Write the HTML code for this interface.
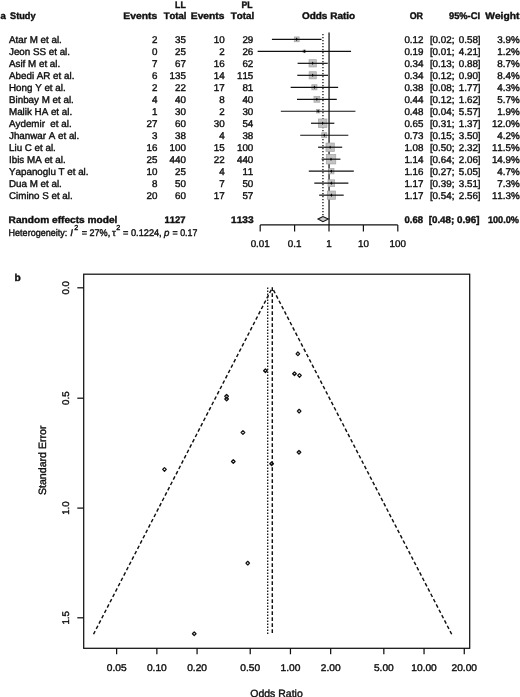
<!DOCTYPE html>
<html><head><meta charset="utf-8"><title>Forest and funnel plot</title>
<style>html,body{margin:0;padding:0;background:#fff;overflow:hidden;}svg{display:block;}</style>
</head><body>
<svg width="520" height="697" viewBox="0 0 520 697" text-rendering="geometricPrecision">
<style>text{stroke:#111;stroke-width:0.4px;font-kerning:none;font-feature-settings:"kern" 0;}</style>
<rect width="520" height="697" fill="#fff"/>
<g font-family="Liberation Sans, Arial, Helvetica, sans-serif" font-weight="bold" font-size="9.6" fill="#111">
<text x="0.5" y="19.1">a</text>
<text transform="translate(10.02 19.1) scale(0.957 1)" xml:space="preserve">Study</text>
<text transform="translate(123.35 19.1) scale(1.073 1)" xml:space="preserve">Events</text>
<text transform="translate(163.7 19.1) scale(0.993 1)" xml:space="preserve">Total</text>
<text transform="translate(190.81 19.1) scale(1.066 1)" xml:space="preserve">Events</text>
<text transform="translate(230.7 19.1) scale(1.021 1)" xml:space="preserve">Total</text>
<text transform="translate(175.11 7.7) scale(0.909 1)" xml:space="preserve">LL</text>
<text transform="translate(241.47 7.7) scale(0.896 1)" xml:space="preserve">PL</text>
<text transform="translate(301.9 19.1) scale(1.041 1)" xml:space="preserve">Odds Ratio</text>
<text transform="translate(409.64 19.1) scale(0.928 1)" xml:space="preserve">OR</text>
<text transform="translate(448.97 19.1) scale(0.97 1)" xml:space="preserve">95%-CI</text>
<text transform="translate(485.27 19.1) scale(1.067 1)" xml:space="preserve">Weight</text>
</g>
<g font-family="Liberation Sans, Arial, Helvetica, sans-serif" font-size="9.8" fill="#111">
<text x="9.0" y="43.10" xml:space="preserve">Atar M et al.</text>
<text x="157.4" y="43.10" text-anchor="end">2</text>
<text x="185.9" y="43.10" text-anchor="end">35</text>
<text x="224.6" y="43.10" text-anchor="end">10</text>
<text x="253.3" y="43.10" text-anchor="end">29</text>
<text x="423.5" y="43.10" text-anchor="end">0.12</text>
<text x="519.7" y="43.10" text-anchor="end">3.9%</text>
<text x="429.9" y="43.10">[0.02;</text>
<text x="480.6" y="43.10" text-anchor="end">0.58]</text>
<text x="9.0" y="55.12" xml:space="preserve">Jeon SS et al.</text>
<text x="157.4" y="55.12" text-anchor="end">0</text>
<text x="185.9" y="55.12" text-anchor="end">25</text>
<text x="224.6" y="55.12" text-anchor="end">2</text>
<text x="253.3" y="55.12" text-anchor="end">26</text>
<text x="423.5" y="55.12" text-anchor="end">0.19</text>
<text x="519.7" y="55.12" text-anchor="end">1.2%</text>
<text x="429.9" y="55.12">[0.01;</text>
<text x="480.6" y="55.12" text-anchor="end">4.21]</text>
<text x="9.0" y="67.14" xml:space="preserve">Asif M et al.</text>
<text x="157.4" y="67.14" text-anchor="end">7</text>
<text x="185.9" y="67.14" text-anchor="end">67</text>
<text x="224.6" y="67.14" text-anchor="end">16</text>
<text x="253.3" y="67.14" text-anchor="end">62</text>
<text x="423.5" y="67.14" text-anchor="end">0.34</text>
<text x="519.7" y="67.14" text-anchor="end">8.7%</text>
<text x="429.9" y="67.14">[0.13;</text>
<text x="480.6" y="67.14" text-anchor="end">0.88]</text>
<text x="9.0" y="79.16" xml:space="preserve">Abedi AR et al.</text>
<text x="157.4" y="79.16" text-anchor="end">6</text>
<text x="185.9" y="79.16" text-anchor="end">135</text>
<text x="224.6" y="79.16" text-anchor="end">14</text>
<text x="253.3" y="79.16" text-anchor="end">115</text>
<text x="423.5" y="79.16" text-anchor="end">0.34</text>
<text x="519.7" y="79.16" text-anchor="end">8.4%</text>
<text x="429.9" y="79.16">[0.12;</text>
<text x="480.6" y="79.16" text-anchor="end">0.90]</text>
<text x="9.0" y="91.18" xml:space="preserve">Hong Y et al.</text>
<text x="157.4" y="91.18" text-anchor="end">2</text>
<text x="185.9" y="91.18" text-anchor="end">22</text>
<text x="224.6" y="91.18" text-anchor="end">17</text>
<text x="253.3" y="91.18" text-anchor="end">81</text>
<text x="423.5" y="91.18" text-anchor="end">0.38</text>
<text x="519.7" y="91.18" text-anchor="end">4.3%</text>
<text x="429.9" y="91.18">[0.08;</text>
<text x="480.6" y="91.18" text-anchor="end">1.77]</text>
<text x="9.0" y="103.20" xml:space="preserve">Binbay M et al.</text>
<text x="157.4" y="103.20" text-anchor="end">4</text>
<text x="185.9" y="103.20" text-anchor="end">40</text>
<text x="224.6" y="103.20" text-anchor="end">8</text>
<text x="253.3" y="103.20" text-anchor="end">40</text>
<text x="423.5" y="103.20" text-anchor="end">0.44</text>
<text x="519.7" y="103.20" text-anchor="end">5.7%</text>
<text x="429.9" y="103.20">[0.12;</text>
<text x="480.6" y="103.20" text-anchor="end">1.62]</text>
<text x="9.0" y="115.22" xml:space="preserve">Malik HA et al.</text>
<text x="157.4" y="115.22" text-anchor="end">1</text>
<text x="185.9" y="115.22" text-anchor="end">30</text>
<text x="224.6" y="115.22" text-anchor="end">2</text>
<text x="253.3" y="115.22" text-anchor="end">30</text>
<text x="423.5" y="115.22" text-anchor="end">0.48</text>
<text x="519.7" y="115.22" text-anchor="end">1.9%</text>
<text x="429.9" y="115.22">[0.04;</text>
<text x="480.6" y="115.22" text-anchor="end">5.57]</text>
<text x="9.0" y="127.24" xml:space="preserve">Aydemir  et al.</text>
<text x="157.4" y="127.24" text-anchor="end">27</text>
<text x="185.9" y="127.24" text-anchor="end">60</text>
<text x="224.6" y="127.24" text-anchor="end">30</text>
<text x="253.3" y="127.24" text-anchor="end">54</text>
<text x="423.5" y="127.24" text-anchor="end">0.65</text>
<text x="519.7" y="127.24" text-anchor="end">12.0%</text>
<text x="429.9" y="127.24">[0.31;</text>
<text x="480.6" y="127.24" text-anchor="end">1.37]</text>
<text x="9.0" y="139.26" xml:space="preserve">Jhanwar A et al.</text>
<text x="157.4" y="139.26" text-anchor="end">3</text>
<text x="185.9" y="139.26" text-anchor="end">38</text>
<text x="224.6" y="139.26" text-anchor="end">4</text>
<text x="253.3" y="139.26" text-anchor="end">38</text>
<text x="423.5" y="139.26" text-anchor="end">0.73</text>
<text x="519.7" y="139.26" text-anchor="end">4.2%</text>
<text x="429.9" y="139.26">[0.15;</text>
<text x="480.6" y="139.26" text-anchor="end">3.50]</text>
<text x="9.0" y="151.28" xml:space="preserve">Liu C et al.</text>
<text x="157.4" y="151.28" text-anchor="end">16</text>
<text x="185.9" y="151.28" text-anchor="end">100</text>
<text x="224.6" y="151.28" text-anchor="end">15</text>
<text x="253.3" y="151.28" text-anchor="end">100</text>
<text x="423.5" y="151.28" text-anchor="end">1.08</text>
<text x="519.7" y="151.28" text-anchor="end">11.5%</text>
<text x="429.9" y="151.28">[0.50;</text>
<text x="480.6" y="151.28" text-anchor="end">2.32]</text>
<text x="9.0" y="163.30" xml:space="preserve">Ibis MA et al.</text>
<text x="157.4" y="163.30" text-anchor="end">25</text>
<text x="185.9" y="163.30" text-anchor="end">440</text>
<text x="224.6" y="163.30" text-anchor="end">22</text>
<text x="253.3" y="163.30" text-anchor="end">440</text>
<text x="423.5" y="163.30" text-anchor="end">1.14</text>
<text x="519.7" y="163.30" text-anchor="end">14.9%</text>
<text x="429.9" y="163.30">[0.64;</text>
<text x="480.6" y="163.30" text-anchor="end">2.06]</text>
<text x="9.0" y="175.32" xml:space="preserve">Yapanoglu T et al.</text>
<text x="157.4" y="175.32" text-anchor="end">10</text>
<text x="185.9" y="175.32" text-anchor="end">25</text>
<text x="224.6" y="175.32" text-anchor="end">4</text>
<text x="253.3" y="175.32" text-anchor="end">11</text>
<text x="423.5" y="175.32" text-anchor="end">1.16</text>
<text x="519.7" y="175.32" text-anchor="end">4.7%</text>
<text x="429.9" y="175.32">[0.27;</text>
<text x="480.6" y="175.32" text-anchor="end">5.05]</text>
<text x="9.0" y="187.34" xml:space="preserve">Dua M et al.</text>
<text x="157.4" y="187.34" text-anchor="end">8</text>
<text x="185.9" y="187.34" text-anchor="end">50</text>
<text x="224.6" y="187.34" text-anchor="end">7</text>
<text x="253.3" y="187.34" text-anchor="end">50</text>
<text x="423.5" y="187.34" text-anchor="end">1.17</text>
<text x="519.7" y="187.34" text-anchor="end">7.3%</text>
<text x="429.9" y="187.34">[0.39;</text>
<text x="480.6" y="187.34" text-anchor="end">3.51]</text>
<text x="9.0" y="199.36" xml:space="preserve">Cimino S et al.</text>
<text x="157.4" y="199.36" text-anchor="end">20</text>
<text x="185.9" y="199.36" text-anchor="end">60</text>
<text x="224.6" y="199.36" text-anchor="end">17</text>
<text x="253.3" y="199.36" text-anchor="end">57</text>
<text x="423.5" y="199.36" text-anchor="end">1.17</text>
<text x="519.7" y="199.36" text-anchor="end">11.3%</text>
<text x="429.9" y="199.36">[0.54;</text>
<text x="480.6" y="199.36" text-anchor="end">2.56]</text>
</g>
<g font-family="Liberation Sans, Arial, Helvetica, sans-serif" font-weight="bold" font-size="9.6" fill="#111">
<text transform="translate(8.62 222.8) scale(1.057 1)" xml:space="preserve">Random effects model</text>
<text transform="translate(164.51 222.8) scale(0.985 1)" xml:space="preserve">1127</text>
<text transform="translate(231.07 222.8) scale(1.057 1)" xml:space="preserve">1133</text>
<text transform="translate(404.52 222.8) scale(0.989 1)" xml:space="preserve">0.68</text>
<text transform="translate(428.66 222.8) scale(1.023 1)" xml:space="preserve">[0.48; 0.96]</text>
<text transform="translate(487.93 222.8) scale(0.953 1)" xml:space="preserve">100.0%</text>
</g>
<g font-family="Liberation Sans, Arial, Helvetica, sans-serif" font-size="9.7" fill="#111">
<text transform="translate(8.55 235.6) scale(0.933 1)"  xml:space="preserve">Heterogeneity:</text>
<text transform="translate(70.26 235.6) scale(1.0 1)" font-style="italic" xml:space="preserve">I</text>
<text transform="translate(74.3 230.0) scale(1.0 1)" font-size="7.2" xml:space="preserve">2</text>
<text transform="translate(81.64 235.6) scale(0.938 1)"  xml:space="preserve">= 27%,</text>
<text transform="translate(111.9 235.6) scale(1.0 1)"  xml:space="preserve">τ</text>
<text transform="translate(116.15 230.0) scale(1.0 1)" font-size="7.2" xml:space="preserve">2</text>
<text transform="translate(123.04 235.6) scale(0.95 1)"  xml:space="preserve">= 0.1224,</text>
<text transform="translate(164.12 235.6) scale(1.0 1)" font-style="italic" xml:space="preserve">p</text>
<text transform="translate(172.56 235.6) scale(0.914 1)"  xml:space="preserve">= 0.17</text>
</g>
<g stroke="#111" fill="none">
<line x1="329.05" y1="32.4" x2="329.05" y2="225" stroke-width="1.25"/>
<line x1="322.95" y1="33.9" x2="322.95" y2="216.3" stroke-width="1.3" stroke-dasharray="1.4 1.6"/>
<rect x="294.28" y="36.92" width="4.86" height="4.86" fill="#c2c2c2" stroke="#a4a4a4" stroke-width="0.7"/>
<rect x="303.01" y="49.99" width="2.70" height="2.70" fill="#c2c2c2" stroke="#a4a4a4" stroke-width="0.7"/>
<rect x="309.05" y="59.69" width="7.26" height="7.26" fill="#c2c2c2" stroke="#a4a4a4" stroke-width="0.7"/>
<rect x="309.12" y="71.74" width="7.13" height="7.13" fill="#c2c2c2" stroke="#a4a4a4" stroke-width="0.7"/>
<rect x="311.85" y="84.74" width="5.10" height="5.10" fill="#c2c2c2" stroke="#a4a4a4" stroke-width="0.7"/>
<rect x="313.95" y="96.34" width="5.88" height="5.88" fill="#c2c2c2" stroke="#a4a4a4" stroke-width="0.7"/>
<rect x="316.42" y="109.56" width="3.39" height="3.39" fill="#c2c2c2" stroke="#a4a4a4" stroke-width="0.7"/>
<rect x="318.41" y="118.98" width="8.53" height="8.53" fill="#c2c2c2" stroke="#a4a4a4" stroke-width="0.7"/>
<rect x="321.75" y="132.71" width="5.04" height="5.04" fill="#c2c2c2" stroke="#a4a4a4" stroke-width="0.7"/>
<rect x="325.97" y="143.04" width="8.35" height="8.35" fill="#c2c2c2" stroke="#a4a4a4" stroke-width="0.7"/>
<rect x="326.27" y="154.45" width="9.50" height="9.50" fill="#c2c2c2" stroke="#a4a4a4" stroke-width="0.7"/>
<rect x="328.64" y="168.52" width="5.34" height="5.34" fill="#c2c2c2" stroke="#a4a4a4" stroke-width="0.7"/>
<rect x="328.02" y="179.85" width="6.65" height="6.65" fill="#c2c2c2" stroke="#a4a4a4" stroke-width="0.7"/>
<rect x="327.29" y="191.02" width="8.27" height="8.27" fill="#c2c2c2" stroke="#a4a4a4" stroke-width="0.7"/>
<line x1="272.51" y1="39.35" x2="320.91" y2="39.35" stroke-width="1.2" stroke-linecap="square"/>
<path d="M295.81 39.35L296.71 37.55L297.61 39.35L296.71 41.15Z" fill="#000" stroke="none"/>
<line x1="258.24" y1="51.34" x2="350.47" y2="51.34" stroke-width="1.2" stroke-linecap="square"/>
<path d="M303.46 51.34L304.36 49.54L305.26 51.34L304.36 53.13Z" fill="#000" stroke="none"/>
<line x1="298.22" y1="63.32" x2="327.14" y2="63.32" stroke-width="1.2" stroke-linecap="square"/>
<path d="M311.78 63.32L312.68 61.52L313.58 63.32L312.68 65.12Z" fill="#000" stroke="none"/>
<line x1="297.88" y1="75.31" x2="327.49" y2="75.31" stroke-width="1.2" stroke-linecap="square"/>
<path d="M311.79 75.31L312.69 73.51L313.59 75.31L312.69 77.11Z" fill="#000" stroke="none"/>
<line x1="291.27" y1="87.29" x2="337.54" y2="87.29" stroke-width="1.2" stroke-linecap="square"/>
<path d="M313.51 87.29L314.41 85.49L315.31 87.29L314.41 89.09Z" fill="#000" stroke="none"/>
<line x1="297.59" y1="99.28" x2="336.18" y2="99.28" stroke-width="1.2" stroke-linecap="square"/>
<path d="M315.98 99.28L316.88 97.48L317.78 99.28L316.88 101.08Z" fill="#000" stroke="none"/>
<line x1="281.43" y1="111.26" x2="354.81" y2="111.26" stroke-width="1.2" stroke-linecap="square"/>
<path d="M317.22 111.26L318.12 109.46L319.02 111.26L318.12 113.06Z" fill="#000" stroke="none"/>
<line x1="311.62" y1="123.25" x2="333.72" y2="123.25" stroke-width="1.2" stroke-linecap="square"/>
<path d="M321.77 123.25L322.67 121.45L323.57 123.25L322.67 125.05Z" fill="#000" stroke="none"/>
<line x1="300.82" y1="135.23" x2="347.72" y2="135.23" stroke-width="1.2" stroke-linecap="square"/>
<path d="M323.37 135.23L324.27 133.43L325.17 135.23L324.27 137.03Z" fill="#000" stroke="none"/>
<line x1="318.69" y1="147.22" x2="341.59" y2="147.22" stroke-width="1.2" stroke-linecap="square"/>
<path d="M329.24 147.22L330.14 145.41L331.04 147.22L330.14 149.02Z" fill="#000" stroke="none"/>
<line x1="322.22" y1="159.20" x2="339.81" y2="159.20" stroke-width="1.2" stroke-linecap="square"/>
<path d="M330.12 159.20L331.02 157.40L331.92 159.20L331.02 161.00Z" fill="#000" stroke="none"/>
<line x1="309.40" y1="171.18" x2="353.21" y2="171.18" stroke-width="1.2" stroke-linecap="square"/>
<path d="M330.40 171.18L331.30 169.38L332.20 171.18L331.30 172.98Z" fill="#000" stroke="none"/>
<line x1="314.91" y1="183.17" x2="347.78" y2="183.17" stroke-width="1.2" stroke-linecap="square"/>
<path d="M330.45 183.17L331.35 181.37L332.25 183.17L331.35 184.97Z" fill="#000" stroke="none"/>
<line x1="319.76" y1="195.16" x2="343.10" y2="195.16" stroke-width="1.2" stroke-linecap="square"/>
<path d="M330.53 195.16L331.43 193.35L332.33 195.16L331.43 196.96Z" fill="#000" stroke="none"/>
<path d="M318.03 219.1L322.95 216.5L328.39 219.1L322.95 221.7Z" fill="#c8c8c8" stroke-width="1.1"/>
<line x1="260.20" y1="224.9" x2="397.80" y2="224.9" stroke-width="1.2"/>
<line x1="260.20" y1="224.9" x2="260.20" y2="231.4" stroke-width="1.2"/>
<line x1="294.60" y1="224.9" x2="294.60" y2="231.4" stroke-width="1.2"/>
<line x1="329.00" y1="224.9" x2="329.00" y2="231.4" stroke-width="1.2"/>
<line x1="363.40" y1="224.9" x2="363.40" y2="231.4" stroke-width="1.2"/>
<line x1="397.80" y1="224.9" x2="397.80" y2="231.4" stroke-width="1.2"/>
</g>
<g font-family="Liberation Sans, Arial, Helvetica, sans-serif" font-size="9.8" fill="#111" text-anchor="middle">
<text x="260.20" y="247">0.01</text>
<text x="294.60" y="247">0.1</text>
<text x="329.00" y="247">1</text>
<text x="363.40" y="247">10</text>
<text x="397.80" y="247">100</text>
</g>
<text font-family="Liberation Sans, Arial, Helvetica, sans-serif" font-weight="bold" font-size="10.2" fill="#111" x="14.6" y="280.9">b</text>
<g stroke="#111" fill="none" stroke-width="1.25">
<rect x="83.7" y="274.2" width="386.0" height="374.09999999999997"/>
<line x1="77.3" y1="287.80" x2="83.7" y2="287.80"/>
<line x1="77.3" y1="398.20" x2="83.7" y2="398.20"/>
<line x1="77.3" y1="508.10" x2="83.7" y2="508.10"/>
<line x1="77.3" y1="617.80" x2="83.7" y2="617.80"/>
<line x1="116.63" y1="648.3" x2="116.63" y2="654.3"/>
<line x1="156.85" y1="648.3" x2="156.85" y2="654.3"/>
<line x1="197.07" y1="648.3" x2="197.07" y2="654.3"/>
<line x1="250.23" y1="648.3" x2="250.23" y2="654.3"/>
<line x1="290.45" y1="648.3" x2="290.45" y2="654.3"/>
<line x1="330.67" y1="648.3" x2="330.67" y2="654.3"/>
<line x1="383.83" y1="648.3" x2="383.83" y2="654.3"/>
<line x1="424.05" y1="648.3" x2="424.05" y2="654.3"/>
<line x1="464.27" y1="648.3" x2="464.27" y2="654.3"/>
</g>
<g font-family="Liberation Sans, Arial, Helvetica, sans-serif" font-size="9.7" fill="#111" text-anchor="middle">
<text transform="translate(116.63 671.3) scale(1.05 1)">0.05</text>
<text transform="translate(156.85 671.3) scale(1.05 1)">0.10</text>
<text transform="translate(197.07 671.3) scale(1.05 1)">0.20</text>
<text transform="translate(250.23 671.3) scale(1.05 1)">0.50</text>
<text transform="translate(290.45 671.3) scale(1.05 1)">1.00</text>
<text transform="translate(330.67 671.3) scale(1.05 1)">2.00</text>
<text transform="translate(383.83 671.3) scale(1.05 1)">5.00</text>
<text transform="translate(424.05 671.3) scale(1.05 1)">10.00</text>
<text transform="translate(464.27 671.3) scale(1.05 1)">20.00</text>
<text transform="translate(69.3 287.80) rotate(-90)" x="0" y="0">0.0</text>
<text transform="translate(69.3 398.20) rotate(-90)" x="0" y="0">0.5</text>
<text transform="translate(69.3 508.10) rotate(-90)" x="0" y="0">1.0</text>
<text transform="translate(69.3 617.80) rotate(-90)" x="0" y="0">1.5</text>
</g>
<text font-family="Liberation Sans, Arial, Helvetica, sans-serif" font-size="10.5" fill="#111" text-anchor="middle" x="276.5" y="696.8">Odds Ratio</text>
<text font-family="Liberation Sans, Arial, Helvetica, sans-serif" font-size="10.6" fill="#111" text-anchor="middle" transform="translate(46.1 460.3) rotate(-90)">Standard Error</text>
<g stroke="#111" fill="none" stroke-width="1.25">
<path d="M93.50 634.26L272.30 287.8" stroke-dasharray="3.6 2.4" stroke-width="1.45"/>
<path d="M451.70 634.26L272.30 287.8" stroke-dasharray="3.6 2.4" stroke-width="1.45"/>
<line x1="272.30" y1="287.35" x2="272.30" y2="634.26" stroke-dasharray="3.6 2.4" stroke-width="1.45"/>
<line x1="267.70" y1="287.5" x2="267.70" y2="634.26" stroke-width="1.3" stroke-dasharray="1.4 1.6"/>
<path d="M162.68 469.39L164.48 467.59L166.28 469.39L164.48 471.19Z" stroke-width="1.3" stroke-linejoin="round"/>
<path d="M192.43 633.80L194.23 632.00L196.03 633.80L194.23 635.60Z" stroke-width="1.3" stroke-linejoin="round"/>
<path d="M224.79 396.32L226.59 394.52L228.39 396.32L226.59 398.12Z" stroke-width="1.3" stroke-linejoin="round"/>
<path d="M224.81 398.95L226.61 397.15L228.41 398.95L226.61 400.75Z" stroke-width="1.3" stroke-linejoin="round"/>
<path d="M231.49 461.45L233.29 459.65L235.09 461.45L233.29 463.25Z" stroke-width="1.3" stroke-linejoin="round"/>
<path d="M241.14 432.58L242.94 430.78L244.74 432.58L242.94 434.38Z" stroke-width="1.3" stroke-linejoin="round"/>
<path d="M245.94 563.12L247.74 561.32L249.54 563.12L247.74 564.92Z" stroke-width="1.3" stroke-linejoin="round"/>
<path d="M263.62 370.74L265.42 368.94L267.22 370.74L265.42 372.54Z" stroke-width="1.3" stroke-linejoin="round"/>
<path d="M269.85 463.78L271.65 461.98L273.45 463.78L271.65 465.58Z" stroke-width="1.3" stroke-linejoin="round"/>
<path d="M292.68 373.74L294.48 371.94L296.28 373.74L294.48 375.54Z" stroke-width="1.3" stroke-linejoin="round"/>
<path d="M296.08 353.85L297.88 352.05L299.68 353.85L297.88 355.65Z" stroke-width="1.3" stroke-linejoin="round"/>
<path d="M297.19 452.18L298.99 450.38L300.79 452.18L298.99 453.98Z" stroke-width="1.3" stroke-linejoin="round"/>
<path d="M297.36 411.13L299.16 409.33L300.96 411.13L299.16 412.93Z" stroke-width="1.3" stroke-linejoin="round"/>
<path d="M297.68 375.40L299.48 373.60L301.28 375.40L299.48 377.20Z" stroke-width="1.3" stroke-linejoin="round"/>
</g>
</svg>
</body></html>
